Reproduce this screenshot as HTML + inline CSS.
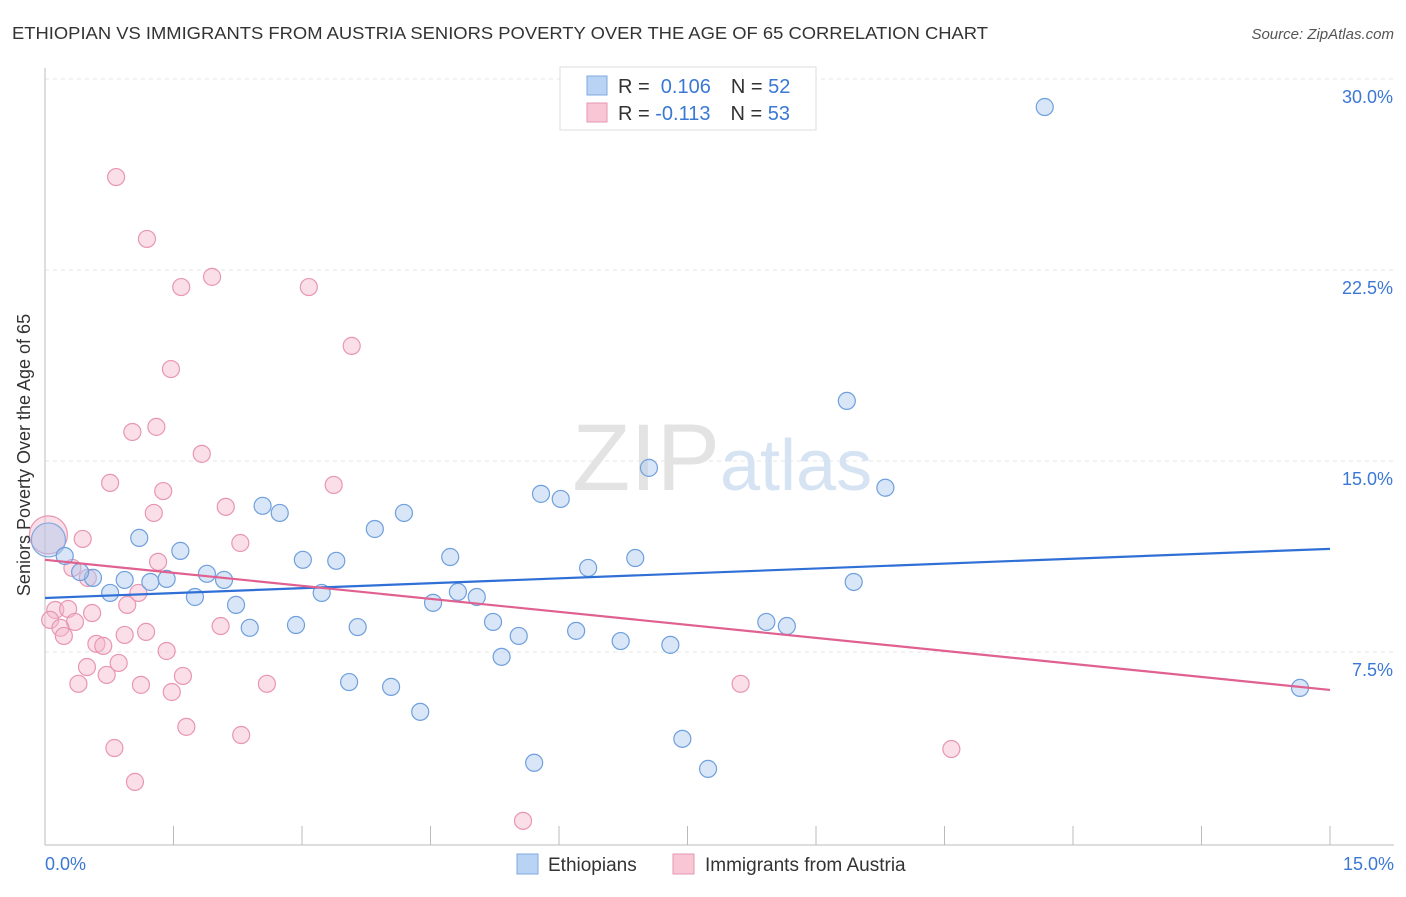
<!DOCTYPE html>
<html><head><meta charset="utf-8"><style>
body{margin:0;background:#fff;font-family:"Liberation Sans",sans-serif}
svg text{font-family:"Liberation Sans",sans-serif}
</style></head><body>
<svg width="1406" height="892" xmlns="http://www.w3.org/2000/svg">
<text x="12" y="39" font-size="17.5" fill="#333" textLength="976" lengthAdjust="spacingAndGlyphs">ETHIOPIAN VS IMMIGRANTS FROM AUSTRIA SENIORS POVERTY OVER THE AGE OF 65 CORRELATION CHART</text>
<text x="1394" y="39" font-size="15" fill="#555" font-style="italic" text-anchor="end">Source: ZipAtlas.com</text>
<g id="grid"></g>
<text x="720" y="490" font-size="95" fill="#e3e3e3" font-family="Liberation Serif" text-anchor="end">ZIP</text>
<text x="720" y="490" font-size="72" fill="#d6e3f3">atlas</text>
<g id="axes"></g>
<g id="pts"></g>
<g id="lines"></g>
<text x="30" y="455" font-size="18" fill="#333" text-anchor="middle" transform="rotate(-90 30 455)">Seniors Poverty Over the Age of 65</text>
<g>
<rect x="560" y="67" width="256" height="63" fill="#fff" stroke="#ddd"/>
<rect x="587" y="76" width="20" height="19" fill="#b9d3f5" stroke="#7fa9e0"/>
<rect x="587" y="103" width="20" height="19" fill="#f9c6d6" stroke="#e896b2"/>
<text x="618" y="93" font-size="20" fill="#333">R = <tspan fill="#3a78d4">&#160;0.106</tspan><tspan dx="20">N = </tspan><tspan fill="#3a78d4">52</tspan></text>
<text x="618" y="120" font-size="20" fill="#333">R = <tspan fill="#3a78d4">-0.113</tspan><tspan dx="20">N = </tspan><tspan fill="#3a78d4">53</tspan></text>
</g>
<g>
<rect x="517" y="854" width="21" height="20" fill="#b9d3f5" stroke="#7fa9e0"/>
<text x="548" y="871" font-size="19" fill="#333">Ethiopians</text>
<rect x="673" y="854" width="21" height="20" fill="#f9c6d6" stroke="#e896b2"/>
<text x="705" y="871" font-size="19" fill="#333">Immigrants from Austria</text>
</g>
</svg>
<script>
const NS="http://www.w3.org/2000/svg";
const yTicks=[7.5,15,22.5,30];
const yTickLabels=["7.5%","15.0%","22.5%","30.0%"];
const xTickLabels=["0.0%","15.0%"];
const blueX=[11.67,9.36,7.05,9.81,5.79,6.02,2.54,2.74,4.19,3.85,1.10,1.58,4.73,3.01,3.40,6.89,6.34,0.23,0.56,0.93,1.23,1.42,1.89,2.09,0.76,1.75,3.23,4.82,5.04,2.23,4.53,9.44,5.23,2.93,3.65,2.39,5.53,6.20,6.72,7.30,8.42,8.66,5.33,3.55,4.04,4.38,7.44,5.71,7.74,14.65,0.41];
const blueY=[28.90,17.36,14.73,13.95,13.71,13.51,13.24,12.96,12.96,12.33,11.98,11.47,11.23,11.12,11.08,11.19,10.80,11.27,10.41,10.33,10.25,10.37,10.57,10.33,9.82,9.66,9.82,9.86,9.66,9.35,9.43,10.25,8.68,8.56,8.48,8.45,8.13,8.33,7.93,7.78,8.68,8.52,7.31,6.32,6.13,5.15,4.09,3.15,2.91,6.09,10.64];
const pinkX=[0.83,1.19,1.95,1.59,3.08,3.58,1.47,1.30,1.02,1.83,0.76,1.38,3.37,2.11,1.27,2.28,0.44,1.32,0.32,0.50,1.09,0.96,0.12,0.27,0.55,0.06,0.35,0.18,2.05,1.18,0.22,0.93,0.60,0.68,1.42,0.49,0.86,0.72,1.61,0.39,1.12,1.48,2.59,8.12,1.65,2.29,0.81,10.58,1.05,5.58];
const pinkY=[26.15,23.72,22.23,21.83,21.83,19.52,18.61,16.34,16.14,15.28,14.14,13.82,14.06,13.20,12.96,11.78,11.94,11.04,10.80,10.41,9.82,9.35,9.15,9.19,9.03,8.76,8.68,8.45,8.52,8.29,8.13,8.17,7.82,7.74,7.54,6.91,7.07,6.60,6.56,6.25,6.21,5.93,6.25,6.25,4.56,4.24,3.73,3.69,2.40,0.87];
const bigX=[0.04];const bigBlueY=[11.9];const bigPinkY=[12.1];
const blueTrend=[9.62,11.55];
const pinkTrend=[11.12,6.01];
const X=v=>45+v*(1285/15);
const Y=v=>79+(30-v)*(191/7.5);
function mk(tag,attrs,parent){const e=document.createElementNS(NS,tag);for(const k in attrs)e.setAttribute(k,attrs[k]);parent.appendChild(e);return e;}
const grid=document.getElementById('grid'),axes=document.getElementById('axes'),pts=document.getElementById('pts'),lines=document.getElementById('lines');
yTicks.forEach((t,i)=>{
 const l=mk('line',{x1:45,x2:1394,y1:Y(t),y2:Y(t),stroke:'#e6e6e6','stroke-dasharray':'4,4'},grid);
 
 
 const tx=mk('text',{x:1393,y:Y(t)+24,'font-size':18,fill:'#3a78d4','text-anchor':'end'},axes);
 tx.textContent=yTickLabels[i];
 
 
});
mk('line',{x1:45,x2:45,y1:68,y2:845,stroke:'#bbb'},axes);
mk('line',{x1:45,x2:1394,y1:845,y2:845,stroke:'#bbb'},axes);
for(let i=0;i<=10;i++){const t=mk('line',{x1:X(i*1.5),x2:X(i*1.5),y1:826,y2:845,stroke:'#bbb'},axes);
 
 }
const xl0=mk('text',{x:45,y:870,'font-size':18,fill:'#3a78d4'},axes);xl0.textContent=xTickLabels[0];


const xl1=mk('text',{x:1394,y:870,'font-size':18,fill:'#3a78d4','text-anchor':'end'},axes);xl1.textContent=xTickLabels[1];


function dot(x,y,r,fill,stroke,name){const c=mk('circle',{cx:X(x),cy:Y(y),r:r,fill:fill,'fill-opacity':0.45,stroke:stroke,'stroke-width':1.2},pts);
 
 }
dot(bigX[0],bigPinkY[0],19,'#f4b8cb','#e896b2','austria-point-large');
dot(bigX[0],bigBlueY[0],17,'#a8c8f0','#7fa9e0','ethiopian-point-large');
pinkX.forEach((x,i)=>dot(x,pinkY[i],8.5,'#f4b8cb','#e896b2','austria-point'));
blueX.forEach((x,i)=>dot(x,blueY[i],8.5,'#a8c8f0','#6f9fdc','ethiopian-point'));
const bl=mk('line',{x1:X(0),y1:Y(blueTrend[0]),x2:X(15),y2:Y(blueTrend[1]),stroke:'#2f6fd6','stroke-width':2.2},lines);


const pl=mk('line',{x1:X(0),y1:Y(pinkTrend[0]),x2:X(15),y2:Y(pinkTrend[1]),stroke:'#e06090','stroke-width':2.2},lines);


</script>
</body></html>
